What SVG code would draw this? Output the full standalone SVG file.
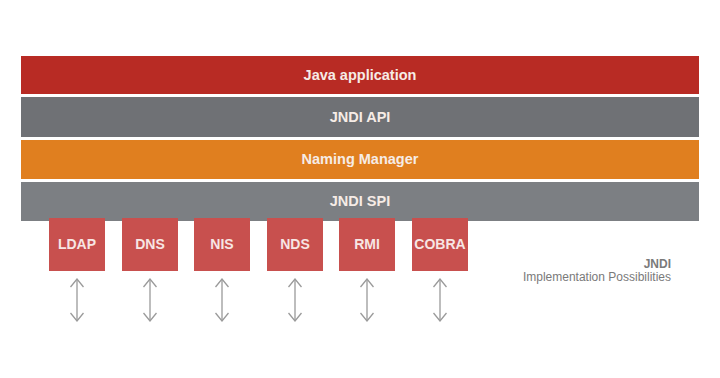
<svg xmlns="http://www.w3.org/2000/svg" width="720" height="378" viewBox="0 0 720 378">
<defs>
<style>
.bar-t{font-family:"Liberation Sans",Arial,sans-serif;font-weight:bold;font-size:14.5px;fill:#f6ece6;text-anchor:middle}
.box{fill:#c8504e}
.box-t{font-family:"Liberation Sans",Arial,sans-serif;font-weight:bold;font-size:14px;fill:#f7e6e4;text-anchor:middle}
.arr{stroke:#9a9a9a;stroke-width:1.3;fill:none}
.cap{font-family:"Liberation Sans",Arial,sans-serif;font-size:12px;fill:#7a7a7a;text-anchor:end}
</style>
<marker id="ah" viewBox="0 0 10 14" refX="9" refY="7" markerWidth="10" markerHeight="14" markerUnits="userSpaceOnUse" orient="auto-start-reverse">
<path d="M1,0.5 L9,7 L1,13.5" fill="none" stroke="#9a9a9a" stroke-width="1.3"/>
</marker>
</defs>
<rect width="720" height="378" fill="#ffffff"/>
<g id="java-application"><rect x="21" y="56" width="678" height="38" fill="#b82b24"/><text class="bar-t" x="360" y="80">Java application</text></g>
<g id="jndi-api"><rect x="21" y="97" width="678" height="40" fill="#6f7175"/><text class="bar-t" x="360" y="121.5">JNDI API</text></g>
<g id="naming-manager"><rect x="21" y="140" width="678" height="39" fill="#e07f1f"/><text class="bar-t" x="360" y="164">Naming Manager</text></g>
<g id="jndi-spi"><rect x="21" y="182" width="678" height="39" fill="#7c7f83"/><text class="bar-t" x="360" y="206">JNDI SPI</text></g>
<g id="ldap"><rect class="box" x="49" y="218" width="56" height="53"/><text class="box-t" x="77" y="249">LDAP</text></g>
<g id="dns"><rect class="box" x="122" y="218" width="56" height="53"/><text class="box-t" x="150" y="249">DNS</text></g>
<g id="nis"><rect class="box" x="194" y="218" width="56" height="53"/><text class="box-t" x="222" y="249">NIS</text></g>
<g id="nds"><rect class="box" x="267" y="218" width="56" height="53"/><text class="box-t" x="295" y="249">NDS</text></g>
<g id="rmi"><rect class="box" x="339" y="218" width="56" height="53"/><text class="box-t" x="367" y="249">RMI</text></g>
<g id="cobra"><rect class="box" x="412" y="218" width="56" height="53"/><text class="box-t" x="440" y="249">COBRA</text></g>
<g id="connectors">
<line class="arr" x1="77" y1="279" x2="77" y2="321" marker-start="url(#ah)" marker-end="url(#ah)"/>
<line class="arr" x1="150" y1="279" x2="150" y2="321" marker-start="url(#ah)" marker-end="url(#ah)"/>
<line class="arr" x1="222" y1="279" x2="222" y2="321" marker-start="url(#ah)" marker-end="url(#ah)"/>
<line class="arr" x1="295" y1="279" x2="295" y2="321" marker-start="url(#ah)" marker-end="url(#ah)"/>
<line class="arr" x1="367" y1="279" x2="367" y2="321" marker-start="url(#ah)" marker-end="url(#ah)"/>
<line class="arr" x1="440" y1="279" x2="440" y2="321" marker-start="url(#ah)" marker-end="url(#ah)"/>
</g>
<g id="caption">
<text class="cap" x="671" y="268" font-weight="bold" fill="#5a5a5a">JNDI</text>
<text class="cap" x="671" y="281">Implementation Possibilities</text>
</g>
</svg>
